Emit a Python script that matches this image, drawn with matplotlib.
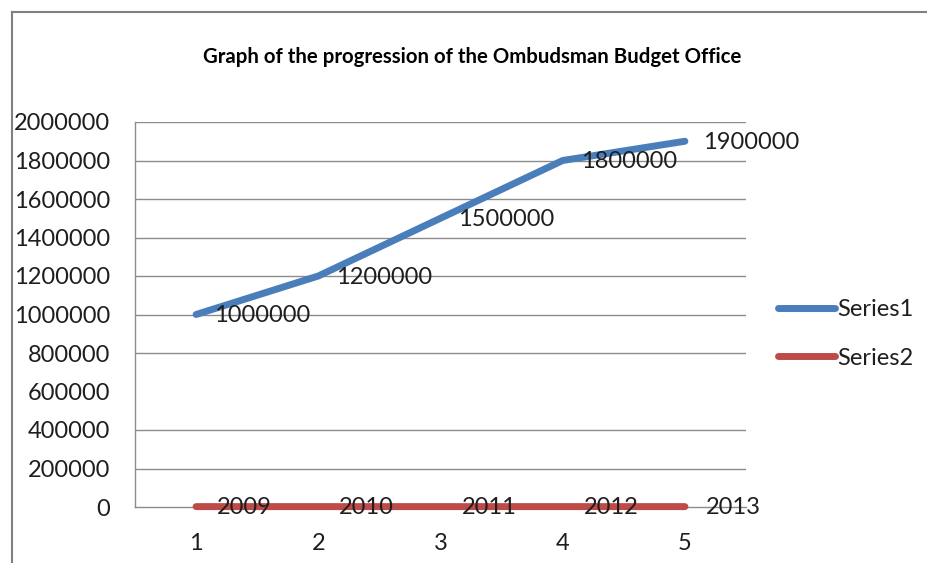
import matplotlib
matplotlib.use("Agg")
import matplotlib.pyplot as plt
from matplotlib.lines import Line2D

categories = [1, 2, 3, 4, 5]
series1 = [1000000, 1200000, 1500000, 1800000, 1900000]
series2 = [2009, 2010, 2011, 2012, 2013]
series_names = ["Series1", "Series2"]
yticks = [0, 200000, 400000, 600000, 800000, 1000000, 1200000, 1400000,
          1600000, 1800000, 2000000]
title = "Graph of the progression of the Ombudsman Budget Office"

plt.rcParams['font.family'] = ['Lato', 'DejaVu Sans']

W, H = 927, 563
fig = plt.figure(figsize=(W / 100, H / 100), dpi=100)
ax = fig.add_axes([135 / W, 1 - 507 / H, (746 - 135) / W, (507 - 122) / H])

blue = '#4A7EBB'
red = '#BE4B48'
grid_c = '#8C8C8C'
txt_c = '#1E1E1E'

ax.set_xlim(0.5, 5.5)
ax.set_ylim(0, 2000000)
for t in yticks:
    if t in (0, 600000):
        continue
    ax.axhline(t, color=grid_c, lw=1.0, zorder=1)

for s in ['top', 'right']:
    ax.spines[s].set_visible(False)
for s in ['left', 'bottom']:
    ax.spines[s].set_color(grid_c)
    ax.spines[s].set_linewidth(1.0)

ax.set_xticks(categories)
ax.set_xticklabels([str(c) for c in categories])
ax.set_yticks(yticks)
ax.set_yticklabels([str(t) for t in yticks])
ax.tick_params(axis='both', length=0, labelsize=17, colors=txt_c)
ax.tick_params(axis='y', pad=18)
ax.tick_params(axis='x', pad=19)

l1, = ax.plot(categories, series1, color=blue, lw=5, solid_capstyle='round',
              solid_joinstyle='round', zorder=3, label=series_names[0])
l2, = ax.plot(categories, series2, color=red, lw=5, solid_capstyle='round',
              solid_joinstyle='round', zorder=3, label=series_names[1], clip_on=False)

for x, y in zip(categories, series1):
    ax.annotate(str(y), (x, y), xytext=(18, -1), textcoords='offset pixels',
                ha='left', va='center', fontsize=17, color=txt_c, zorder=4)
for x, y in zip(categories, series2):
    ax.annotate(str(y), (x, y), xytext=(21, -1), textcoords='offset pixels',
                ha='left', va='center', fontsize=17, color=txt_c, zorder=4,
                annotation_clip=False)

fig.legend(handles=[l1, l2], loc='center left',
           bbox_to_anchor=(778 / W, 1 - 334 / H), frameon=False,
           fontsize=17, handlelength=2.4, handletextpad=0.1,
           labelspacing=1.15, borderpad=0, borderaxespad=0,
           labelcolor=txt_c)

fig.text(472 / W, 1 - 57 / H, title, ha='center', va='center',
         fontsize=14.7, fontweight='bold', color='black')

fig.add_artist(Line2D([12 / W, 12 / W], [0, 1 - 12 / H], color='#808080', lw=1.5,
                      transform=fig.transFigure))
fig.add_artist(Line2D([12 / W, 1], [1 - 12 / H, 1 - 12 / H], color='#808080', lw=1.5,
                      transform=fig.transFigure))

fig.savefig('out.png', dpi=100, facecolor='white')
